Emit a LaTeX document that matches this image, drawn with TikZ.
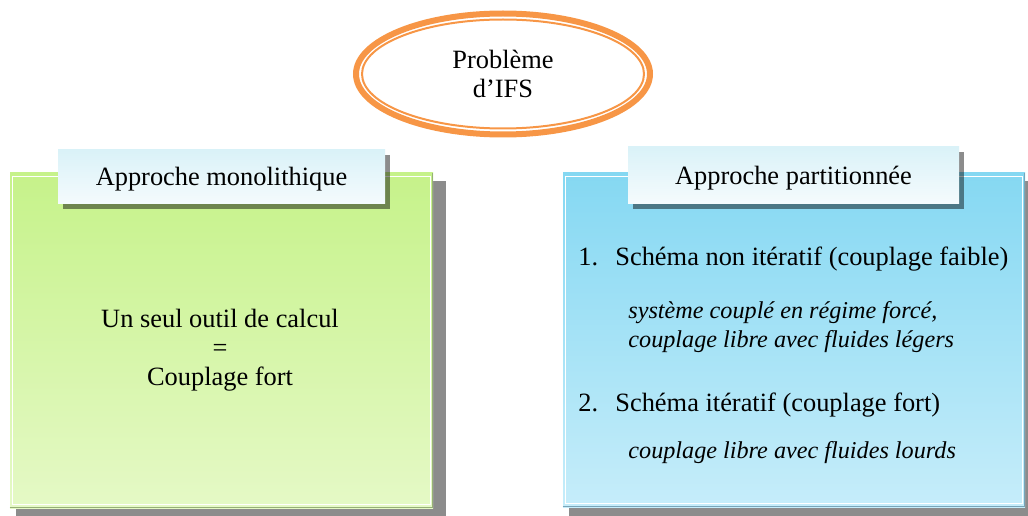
\documentclass[tikz,border=0pt]{standalone}
\usepackage{fontspec}
\setmainfont{Liberation Serif}
\usetikzlibrary{shapes.geometric,shadows}
\definecolor{ifsorange}{RGB}{247,150,70}
\definecolor{monotop}{RGB}{198,242,138}
\definecolor{monobot}{RGB}{229,249,198}
\definecolor{monoedge}{RGB}{150,175,120}
\definecolor{parttop}{RGB}{133,216,242}
\definecolor{partbot}{RGB}{198,237,250}
\definecolor{partedge}{RGB}{120,165,185}
\definecolor{tabtop}{RGB}{218,242,248}
\definecolor{tabbot}{RGB}{245,251,253}
\newcommand\txtsize{\fontsize{13.2}{14.8}\selectfont}
\newcommand\notesize{\fontsize{12.1}{14.2}\selectfont}

\begin{document}
\begin{tikzpicture}[x=0.5pt,y=0.5pt,
    panel/.style={rectangle,inner sep=0pt,shading=axis,
      drop shadow={shadow xshift=4.75pt,shadow yshift=-5pt,shadow scale=1.015,fill=black,opacity=0.45}},
    tab/.style={rectangle,inner sep=0pt,top color=tabtop,bottom color=tabbot,font=\txtsize,
      text height=9pt,text depth=0pt,
      drop shadow={shadow xshift=2.25pt,shadow yshift=-2.5pt,fill=black,opacity=0.45}},
    txt/.style={inner sep=0pt,font=\txtsize}]
  \clip (0,0) rectangle (1028,515);
  % top ellipse
  \node (ifs) at (503,441) [ellipse,draw=ifsorange,line width=3pt,inner sep=0pt,
    minimum width=147pt,minimum height=60.5pt,align=center,font=\txtsize] {Problème\\d’IFS};
  \draw[ifsorange,line width=1pt] (ifs.center) ellipse [x radius=70.5pt,y radius=27.25pt];
  % two panels
  \node (mono) at (221.5,174.5) [panel,top color=monotop,bottom color=monobot,
    minimum width=211.5pt,minimum height=167.5pt] {};
  \node (part) at (794,175) [panel,top color=parttop,bottom color=partbot,
    minimum width=231pt,minimum height=167pt] {};
  \foreach \n/\c in {mono/monoedge,part/partedge} {
    \draw[white,line width=0.6pt] ([shift={(3,4)}]\n.south west) rectangle ([shift={(-3,-4)}]\n.north east);
    \draw[\c,line width=0.8pt] ([shift={(0,1)}]\n.south west) -- ([shift={(-1,1)}]\n.south east) -- ([shift={(-1,0)}]\n.north east);
  }
  % tabs
  \node (monotab) at (221.5,338) [tab,minimum width=163.5pt,minimum height=27pt] {Approche monolithique};
  \node (parttab) at (793.5,339.5) [tab,minimum width=165.5pt,minimum height=28.5pt] {Approche partitionnée};
  % texts
  \node (monotxt) at (220,165) [txt,align=center,font=\fontsize{13.2}{14.5}\selectfont] {Un seul outil de calcul\\=\\Couplage fort};
  \node (item1) at (578,256) [txt,anchor=west] {\makebox[18.5pt][l]{1.}Schéma non itératif (couplage faible)};
  \node (note1) at (628,188) [txt,anchor=west,align=left,font=\notesize\itshape]
    {système couplé en régime forcé,\\couplage libre avec fluides légers};
  \node (item2) at (578,110) [txt,anchor=west] {\makebox[18.5pt][l]{2.}Schéma itératif (couplage fort)};
  \node (note2) at (628,62) [txt,anchor=west,font=\notesize\itshape] {couplage libre avec fluides lourds};
\end{tikzpicture}
\end{document}
